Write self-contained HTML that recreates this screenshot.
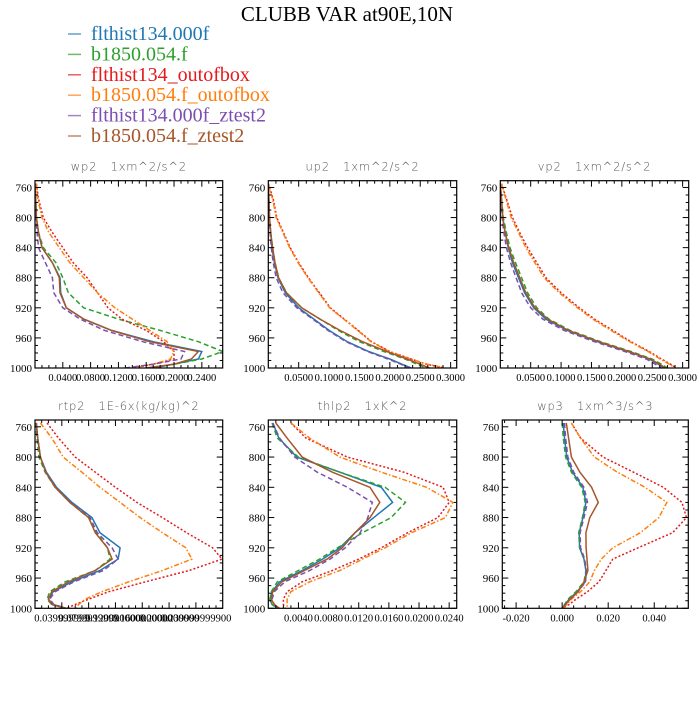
<!DOCTYPE html>
<html><head><meta charset="utf-8">
<style>
body{margin:0;background:#fff;width:700px;height:700px;overflow:hidden}
svg text{font-family:"Liberation Serif",serif}
</style></head>
<body>
<svg id="chart" width="700" height="700" viewBox="0 0 700 700" xmlns="http://www.w3.org/2000/svg">
<text x="347" y="21" text-anchor="middle" font-size="21" fill="#000">CLUBB VAR at90E,10N</text>
<g id="legend"></g>
<g id="panels"></g>
</svg>
<script>
const levels = [755,775,800,820,840,860,880,900,920,935,950,965,978,988,995,1000];
const seriesNames = ["flthist134.000f","b1850.054.f","flthist134_outofbox","b1850.054.f_outofbox","flthist134.000f_ztest2","b1850.054.f_ztest2"];
const seriesColors = ["#1f77b4","#2ca02c","#e41a1c","#ff7f0e","#7b4fb0","#a65628"];
const seriesDash = ["","5,3","2,2","5,2,1.5,2","5,3",""];
const yTicks = [760,800,840,880,920,960,1000];

const wp2Blue = [0,0.001,0.002,0.005,0.01,0.025,0.036,0.037,0.045,0.07,0.11,0.17,0.24,0.235,0.2,0.17];
const wp2Green = [0,0.001,0.002,0.005,0.012,0.03,0.04,0.048,0.07,0.12,0.18,0.235,0.27,0.24,0.2,0.16];
const wp2Red = [0.002,0.005,0.012,0.025,0.04,0.055,0.075,0.09,0.105,0.125,0.16,0.185,0.2,0.2,0.17,0.14];
const wp2Orange = [0.002,0.004,0.01,0.02,0.035,0.05,0.07,0.09,0.115,0.14,0.165,0.19,0.2,0.195,0.17,0.14];
const wp2Purple = [0,0,0.001,0.003,0.005,0.015,0.025,0.027,0.04,0.065,0.1,0.155,0.215,0.21,0.17,0.13];
const wp2Brown = [0,0.001,0.002,0.005,0.01,0.025,0.035,0.036,0.045,0.07,0.11,0.165,0.235,0.225,0.2,0.16];

const up2Blue = [0,0.001,0.002,0.004,0.006,0.01,0.016,0.028,0.05,0.075,0.1,0.13,0.165,0.2,0.22,0.235];
const up2Green = [0,0.001,0.002,0.004,0.007,0.011,0.017,0.03,0.055,0.085,0.115,0.15,0.19,0.225,0.245,0.26];
const up2Red = [0,0.008,0.014,0.025,0.036,0.05,0.066,0.084,0.102,0.125,0.148,0.17,0.2,0.235,0.26,0.29];
const up2Orange = [0,0.007,0.013,0.024,0.035,0.049,0.065,0.083,0.101,0.124,0.147,0.169,0.199,0.234,0.262,0.292];
const up2Purple = [0,0,0.001,0.003,0.005,0.008,0.013,0.024,0.047,0.073,0.098,0.128,0.163,0.197,0.218,0.232];
const up2Brown = [0,0.001,0.002,0.004,0.007,0.011,0.017,0.03,0.055,0.085,0.118,0.155,0.195,0.228,0.25,0.265];

const vp2Blue = [0,0.002,0.004,0.008,0.013,0.02,0.03,0.04,0.055,0.075,0.11,0.16,0.21,0.245,0.26,0.27];
const vp2Green = [0,0.002,0.005,0.01,0.016,0.025,0.035,0.045,0.06,0.08,0.115,0.165,0.215,0.25,0.265,0.275];
const vp2Red = [0.002,0.01,0.02,0.032,0.045,0.06,0.075,0.1,0.13,0.155,0.185,0.215,0.245,0.265,0.28,0.29];
const vp2Orange = [0.002,0.009,0.018,0.03,0.042,0.057,0.072,0.097,0.127,0.152,0.182,0.213,0.243,0.263,0.278,0.288];
const vp2Purple = [0,0.001,0.003,0.006,0.01,0.017,0.026,0.035,0.05,0.07,0.105,0.155,0.205,0.24,0.255,0.265];
const vp2Brown = [0,0.002,0.004,0.008,0.014,0.022,0.032,0.042,0.057,0.078,0.112,0.162,0.212,0.247,0.262,0.272];

const rtp2Blue = [0.002,0.004,0.008,0.017,0.032,0.055,0.085,0.097,0.127,0.124,0.097,0.055,0.027,0.02,0.027,0.047];
const rtp2Green = [0.001,0.003,0.006,0.015,0.03,0.052,0.08,0.092,0.108,0.112,0.09,0.045,0.022,0.018,0.025,0.045];
const rtp2Red = [0.018,0.035,0.06,0.09,0.12,0.152,0.19,0.226,0.265,0.279,0.23,0.165,0.11,0.08,0.06,0.047];
const rtp2Orange = [0.008,0.025,0.042,0.07,0.097,0.127,0.157,0.19,0.225,0.234,0.19,0.14,0.1,0.075,0.065,0.062];
const rtp2Purple = [0.002,0.004,0.008,0.016,0.031,0.053,0.082,0.093,0.115,0.124,0.102,0.058,0.03,0.022,0.028,0.047];
const rtp2Brown = [0.002,0.004,0.008,0.016,0.03,0.052,0.08,0.09,0.108,0.115,0.09,0.05,0.025,0.02,0.025,0.045];

const thlp2Blue = [0.0006,0.0014,0.0038,0.0095,0.015,0.0165,0.014,0.0115,0.0095,0.0072,0.0045,0.0015,0.0005,0.0002,0.0005,0.0013];
const thlp2Green = [0.0005,0.0012,0.004,0.0095,0.0155,0.0182,0.0163,0.0125,0.0092,0.0068,0.004,0.0012,0.0004,0.0002,0.0005,0.0012];
const thlp2Red = [0.003,0.005,0.0105,0.018,0.0232,0.024,0.0225,0.0185,0.015,0.012,0.0085,0.0045,0.0025,0.002,0.002,0.0022];
const thlp2Orange = [0.003,0.0055,0.0095,0.015,0.021,0.0245,0.0235,0.019,0.0155,0.0125,0.0095,0.0055,0.003,0.0025,0.0025,0.0025];
const thlp2Purple = [0.0006,0.0015,0.0035,0.0065,0.0105,0.0138,0.0132,0.0122,0.0102,0.0082,0.0055,0.0022,0.0008,0.0005,0.0008,0.0014];
const thlp2Brown = [0.001,0.0025,0.0045,0.0085,0.0135,0.0148,0.0135,0.0115,0.0098,0.0078,0.0048,0.0018,0.0006,0.0004,0.0008,0.0015];

const wp3Blue = [0.0005,0.001,0.002,0.0045,0.009,0.0103,0.009,0.0074,0.0076,0.0095,0.0103,0.01,0.0065,0.003,0.0012,0];
const wp3Green = [0,0.0005,0.0015,0.004,0.0085,0.01,0.0088,0.0072,0.0076,0.0095,0.0103,0.0095,0.006,0.0025,0.001,0];
const wp3Red = [0.004,0.008,0.0178,0.031,0.044,0.052,0.054,0.048,0.033,0.022,0.019,0.016,0.011,0.006,0.003,0];
const wp3Orange = [0.004,0.008,0.014,0.024,0.036,0.0455,0.042,0.034,0.022,0.017,0.014,0.012,0.008,0.004,0.002,0];
const wp3Purple = [0.001,0.0015,0.0025,0.005,0.0095,0.011,0.0095,0.0078,0.008,0.0098,0.0105,0.0102,0.0068,0.0032,0.0013,0];
const wp3Brown = [0.0018,0.0028,0.004,0.0077,0.0128,0.0157,0.012,0.0103,0.0104,0.0108,0.0112,0.0095,0.007,0.0035,0.0015,0];

const wp2Ticks = [0.04,0.08,0.12,0.16,0.2,0.24];
const wp2Labels = ["0.0400","0.0800","0.1200","0.1600","0.2000","0.2400"];
const up2Ticks = [0.05,0.1,0.15,0.2,0.25,0.3];
const up2Labels = ["0.0500","0.1000","0.1500","0.2000","0.2500","0.3000"];
const rtp2Ticks = [0.04,0.08,0.12,0.16,0.2,0.24];
const rtp2Labels = ["0.039999999","0.0799999999","0.1200000000","0.1600000000","0.2000000000","0.239999999900"];
const thlp2Ticks = [0.004,0.008,0.012,0.016,0.02,0.024];
const thlp2Labels = ["0.0040","0.0080","0.0120","0.0160","0.0200","0.0240"];
const wp3Ticks = [-0.02,0,0.02,0.04];
const wp3Labels = ["-0.020","0.000","0.020","0.040"];

const panels = [
 {name:"wp2",title:"wp2   1xm^2/s^2",x0:35,x1:222.7,y0:180.7,y1:368,xmin:0,xmax:0.27,ticks:wp2Ticks,labels:wp2Labels,minor:4,data:[wp2Blue,wp2Green,wp2Red,wp2Orange,wp2Purple,wp2Brown]},
 {name:"up2",title:"up2   1xm^2/s^2",x0:268.3,x1:456.7,y0:180.7,y1:368,xmin:0,xmax:0.31,ticks:up2Ticks,labels:up2Labels,minor:4,data:[up2Blue,up2Green,up2Red,up2Orange,up2Purple,up2Brown]},
 {name:"vp2",title:"vp2   1xm^2/s^2",x0:500.3,x1:688.7,y0:180.7,y1:368,xmin:0,xmax:0.31,ticks:up2Ticks,labels:up2Labels,minor:4,data:[vp2Blue,vp2Green,vp2Red,vp2Orange,vp2Purple,vp2Brown]},
 {name:"rtp2",title:"rtp2   1E-6x(kg/kg)^2",x0:35,x1:222.7,y0:420,y1:608.3,xmin:0,xmax:0.28,ticks:rtp2Ticks,labels:rtp2Labels,minor:4,data:[rtp2Blue,rtp2Green,rtp2Red,rtp2Orange,rtp2Purple,rtp2Brown]},
 {name:"thlp2",title:"thlp2   1xK^2",x0:268.3,x1:456.7,y0:420,y1:608.3,xmin:0,xmax:0.025,ticks:thlp2Ticks,labels:thlp2Labels,minor:4,data:[thlp2Blue,thlp2Green,thlp2Red,thlp2Orange,thlp2Purple,thlp2Brown]},
 {name:"wp3",title:"wp3   1xm^3/s^3",x0:502.3,x1:688.3,y0:420,y1:608.3,xmin:-0.026,xmax:0.0548,ticks:wp3Ticks,labels:wp3Labels,minor:4,data:[wp3Blue,wp3Green,wp3Red,wp3Orange,wp3Purple,wp3Brown]}
];

const NS="http://www.w3.org/2000/svg";
function mk(tag, attrs, parent){
  const e=document.createElementNS(NS,tag);
  for(const k in attrs) e.setAttribute(k,attrs[k]);
  parent.appendChild(e); return e;
}
const leg=document.getElementById('legend');
seriesNames.forEach((n,i)=>{
  const y=40+i*20.4;
  const ln=mk('line',{x1:68,x2:81,y1:y-6,y2:y-6,stroke:seriesColors[i],'stroke-width':1.5,opacity:0.7},leg);
  
  
  const t=mk('text',{x:91,y:y,'font-size':20,fill:seriesColors[i]},leg);
  t.textContent=n;
  
  
});

const root=document.getElementById('panels');
panels.forEach(p=>{
  const g=mk('g',{},root);
  
  
  const yMin=751, yMax=1000;
  const sx=v=>p.x0+(v-p.xmin)/(p.xmax-p.xmin)*(p.x1-p.x0);
  const sy=v=>p.y0+(v-yMin)/(yMax-yMin)*(p.y1-p.y0);
  const tt=mk('text',{x:(p.x0+p.x1)/2,y:p.y0-10,'text-anchor':'middle','font-size':11.5,fill:'#555','letter-spacing':'0.8','style':'font-family:"DejaVu Sans",sans-serif;font-weight:300;white-space:pre'},g);
  tt.textContent=p.title;
  
  
  const cp='clip-'+p.name;
  const cl=mk('clipPath',{id:cp},g);
  mk('rect',{x:p.x0,y:p.y0,width:p.x1-p.x0,height:p.y1-p.y0},cl);
  p.data.forEach((arr,i)=>{
    const pts=arr.map((v,j)=>sx(v).toFixed(1)+','+sy(levels[j]).toFixed(1)).join(' ');
    const pl=mk('polyline',{points:pts,fill:'none',stroke:seriesColors[i],'stroke-width':1.5,'stroke-dasharray':seriesDash[i]||'none','clip-path':'url(#'+cp+')'},g);
    
    
  });
  const fr=mk('rect',{x:p.x0,y:p.y0,width:p.x1-p.x0,height:p.y1-p.y0,fill:'none',stroke:'#000','stroke-width':1.2},g);
  
  
  for(let v=760; v<=1000; v+=10){
    const major=(v-760)%40===0; const L=major?6:3; const y=sy(v);
    mk('line',{x1:p.x0,x2:p.x0+L,y1:y,y2:y,stroke:'#000','stroke-width':1},g);
    mk('line',{x1:p.x1,x2:p.x1-L,y1:y,y2:y,stroke:'#000','stroke-width':1},g);
  }
  yTicks.forEach(v=>{
    const t=mk('text',{x:p.x0-3,y:sy(v)+4,'text-anchor':'end','font-size':11},g);
    t.textContent=v;
    
    
  });
  const step=p.ticks.length>1?p.ticks[1]-p.ticks[0]:0.05;
  const ms=step/p.minor;
  const start=Math.ceil(p.xmin/ms-1e-6);
  for(let k=start; k*ms<=p.xmax+1e-9; k++){
    const v=k*ms; const major=Math.abs(Math.round(k)%p.minor)===0; const L=major?6:3; const x=sx(v);
    if(x<p.x0+0.5||x>p.x1-0.5) continue;
    mk('line',{x1:x,x2:x,y1:p.y1,y2:p.y1-L,stroke:'#000','stroke-width':1},g);
    mk('line',{x1:x,x2:x,y1:p.y0,y2:p.y0+L,stroke:'#000','stroke-width':1},g);
  }
  p.ticks.forEach((v,i)=>{
    const t=mk('text',{x:sx(v),y:p.y1+13,'text-anchor':'middle','font-size':10.5},g);
    t.textContent=p.labels[i];
    
    
  });
});
</script>
</body></html>
